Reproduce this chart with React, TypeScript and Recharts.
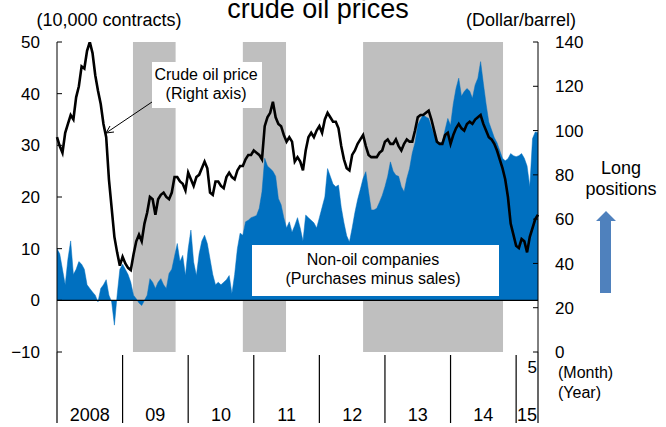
import React from 'react';
import { ComposedChart, Area, Line, XAxis, YAxis, ReferenceArea, ReferenceLine } from 'recharts';

// half-month steps from Jan 2008 (t = months since Jan 2008)
// non-oil companies net long positions, 10,000 contracts (left axis)
const NON_OIL = [
  10, 9, 6, 3, 8, 11.5, 5, 6, 7.5, 7, 6, 3, 2.3, 1.6, 1, -0.3, 2.3, 3, 4, 1, -0.3, -4.8, 1, 6,
  7, 6, 5, 3.5, 1, 0.3, -0.5, -1, 0, 1, 4.2, 3.5, 2.3, 3.5, 4.2, 3, 2.3, 5.2, 6, 8.5, 11, 7.5, 8.7, 4.8,
  10, 13.6, 7.4, 4.8, 9, 11.5, 12.6, 11, 8, 5, 3, 3.5, 3, 3.5, 4, 4.8, 1.3, 5, 10, 13, 12.6, 15.2, 15.5, 16,
  16.2, 16.4, 17.8, 21, 27.5, 26, 25.5, 25, 24, 19.7, 18.5, 16, 14, 15.2, 13.2, 14.5, 16, 14, 11.5, 16.5, 16, 15.5, 15, 14,
  16, 18, 20, 25.5, 24, 22.5, 22, 22.3, 18, 15, 12.5, 11.3, 14, 17, 19.5, 21.5, 23.6, 24.9, 21, 17.5, 17.5, 17.8, 19, 20.3,
  22, 24, 26.8, 25, 24.2, 24, 22, 21, 23.6, 25.5, 28.5, 30.5, 34, 35, 35.9, 35.5, 35.2, 33.5, 32, 31, 30.4, 30.7, 33, 35.2,
  33.9, 38, 41, 43, 39.5, 40.4, 41, 40.5, 39.1, 41.7, 43, 46.2, 42, 38, 34.5, 33, 31.5, 30.5, 29, 27.5, 27, 27.4, 28.4, 28,
  27.8, 28, 28.4, 27.5, 26, 22, 31.3, 32.6, 32.5,
];

// crude oil price, dollar/barrel (right axis)
const PRICE = [
  97, 93, 90, 99, 103, 107, 105, 115, 120, 129, 128, 136, 140, 135, 125, 118, 112, 103, 97, 78, 65, 52, 45, 39,
  43, 40, 38, 37, 44, 50, 53, 50, 58, 63, 70, 69, 62, 69, 71, 72, 70, 69, 72, 79, 79, 77, 76, 73,
  81, 78, 75, 79, 80, 83, 86, 83, 72, 71, 77, 77, 75, 74, 79, 81, 79, 78, 82, 84, 84, 87, 89, 89,
  91, 90, 89, 87, 102, 106, 108, 113, 106, 103, 102, 98, 95, 97, 95, 86, 88, 86, 82, 91, 97, 99, 97, 100,
  102, 99, 105, 108, 106, 104, 104, 101, 93, 87, 83, 82, 89, 91, 94, 96, 98, 93, 89, 88, 88, 88, 90, 91,
  95, 96, 94, 94, 96, 93, 91, 94, 96, 95, 95, 100, 106, 107, 107, 108, 109, 105, 100, 95, 94, 94, 98, 99,
  94, 98, 101, 103, 101, 100, 103, 104, 103, 105, 106, 107, 103, 100, 97, 96, 94, 91, 87, 83, 78, 70, 58, 53,
  48, 47, 51, 50, 45, 52, 56, 60, 62,
];

const YEAR_LABELS = ['2008', '09', '10', '11', '12', '13', '14', '15'];
const YEAR_STARTS = [0, 12, 24, 36, 48, 60, 72, 84];
const END_T = 88;
const LAST_MONTH = '5';

// shaded periods, in months since Jan 2008
const SHADED = [
  [13.9, 21.7],
  [34, 41.9],
  [56, 81.6],
];

const LEFT_TICKS = [-10, 0, 10, 20, 30, 40, 50];
const RIGHT_TICKS = [0, 20, 40, 60, 80, 100, 120, 140];

const data = NON_OIL.map((v, i) => ({ t: i / 2, nonOil: v, price: PRICE[i] }));

const FONT = '"Liberation Sans", Arial, sans-serif';

const bounds = [...YEAR_STARTS, END_T];
const mids = YEAR_LABELS.map((_, i) => (bounds[i] + bounds[i + 1]) / 2);
const X_TICKS = [...bounds, ...mids];

const fmtLeft = (v: number) => (v < 0 ? '\u2212' + Math.abs(v) : String(v));

const LeftTick = ({ x, y, payload }: any) => (
  <g>
    <line x1={x} x2={x + 5} y1={y} y2={y} stroke="#000" />
    <text x={x - 17} y={y} dy="0.36em" textAnchor="end" fontSize={17} fontFamily={FONT} fill="#000">
      {fmtLeft(payload.value)}
    </text>
  </g>
);

const RightTick = ({ x, y, payload }: any) => (
  <g>
    <line x1={x - 5} x2={x} y1={y} y2={y} stroke="#000" />
    <text x={x + 17} y={y} dy="0.36em" textAnchor="start" fontSize={17} fontFamily={FONT} fill="#000">
      {payload.value}
    </text>
  </g>
);

const YearTick = ({ x, y, payload }: any) => {
  const v = payload.value;
  const bi = bounds.indexOf(v);
  if (bi >= 0) {
    const edge = bi === 0 || bi === bounds.length - 1;
    return (
      <g>
        <line x1={x} x2={x} y1={edge ? y : y + 3} y2={y + 71} stroke="#000" strokeWidth={1.2} />
        {bi === bounds.length - 1 && (
          <text x={x - 1} y={y + 21} textAnchor="end" fontSize={17} fontFamily={FONT} fill="#000">
            {LAST_MONTH}
          </text>
        )}
      </g>
    );
  }
  const mi = mids.indexOf(v);
  return (
    <text x={x} y={y + 69} textAnchor="middle" fontSize={18} fontFamily={FONT} fill="#000">
      {YEAR_LABELS[mi]}
    </text>
  );
};

export default function App() {
  return (
    <div style={{ position: 'absolute', left: 0, top: 0, width: 666, height: 427, background: '#fff' }}>
      <ComposedChart width={666} height={427} data={data} margin={{ top: 42, right: 0, bottom: 0, left: 0 }}>
        <XAxis
          dataKey="t"
          type="number"
          domain={[0, END_T]}
          ticks={X_TICKS}
          interval={0}
          height={75}
          axisLine={false}
          tickLine={false}
          tickSize={0}
          tickMargin={0}
          tick={<YearTick />}
        />
        <YAxis
          yAxisId="left"
          orientation="left"
          width={57}
          domain={[-10, 50]}
          ticks={LEFT_TICKS}
          allowDataOverflow
          axisLine={{ stroke: '#000' }}
          tickLine={false}
          tickSize={0}
          tickMargin={0}
          tick={<LeftTick />}
        />
        <YAxis
          yAxisId="right"
          orientation="right"
          width={128}
          domain={[0, 140]}
          ticks={RIGHT_TICKS}
          allowDataOverflow
          axisLine={{ stroke: '#000' }}
          tickLine={false}
          tickSize={0}
          tickMargin={0}
          tick={<RightTick />}
        />
        {SHADED.map(([a, b], i) => (
          <ReferenceArea key={i} yAxisId="left" x1={a} x2={b} fill="#BFBFBF" fillOpacity={1} stroke="none" />
        ))}
        <Area
          yAxisId="left"
          type="linear"
          dataKey="nonOil"
          fill="#0070C0"
          fillOpacity={1}
          stroke="#0070C0"
          strokeWidth={0.5}
          isAnimationActive={false}
        />
        <ReferenceLine yAxisId="left" y={0} stroke="#000" strokeWidth={1.3} />
        <Line
          yAxisId="right"
          type="linear"
          dataKey="price"
          stroke="#000"
          strokeWidth={2.6}
          dot={false}
          isAnimationActive={false}
        />
      </ComposedChart>
      <svg
        width={666}
        height={427}
        style={{ position: 'absolute', left: 0, top: 0, pointerEvents: 'none' }}
        fontFamily={FONT}
      >
        <text x={318} y={18} textAnchor="middle" fontSize={27} fill="#000">crude oil prices</text>
        <text x={109} y={26} textAnchor="middle" fontSize={18} fill="#000">(10,000 contracts)</text>
        <text x={521} y={26} textAnchor="middle" fontSize={18} fill="#000">(Dollar/barrel)</text>

        <rect x={152} y={62} width={110} height={46} fill="#fff" />
        <text x={206} y={80} textAnchor="middle" fontSize={16} fill="#000">Crude oil price</text>
        <text x={206} y={99} textAnchor="middle" fontSize={16} fill="#000">(Right axis)</text>
        <line x1={152} y1={102} x2={106} y2={133} stroke="#000" strokeWidth={1} />
        <polyline points="110,126 106,133 114,132" fill="none" stroke="#000" strokeWidth={1} />

        <rect x={252} y={245} width={247} height={51} fill="#fff" />
        <text x={373} y={265} textAnchor="middle" fontSize={16} fill="#000">Non-oil companies</text>
        <text x={373} y={284} textAnchor="middle" fontSize={16} fill="#000">(Purchases minus sales)</text>

        <text x={621} y={174} textAnchor="middle" fontSize={18} fill="#000">Long</text>
        <text x={621} y={195} textAnchor="middle" fontSize={18} fill="#000">positions</text>
        <polygon points="606,211 616,221 611,221 611,293 600,293 600,221 596,221" fill="#4F81BD" />

        <text x={558} y={378} fontSize={16} fill="#000">(Month)</text>
        <text x={558} y={398} fontSize={16} fill="#000">(Year)</text>
      </svg>
    </div>
  );
}
